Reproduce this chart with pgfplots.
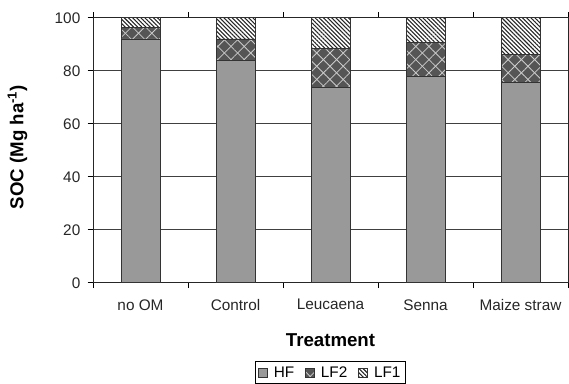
\documentclass[border=0pt]{standalone}
\usepackage{pgfplots}
\pgfplotsset{compat=1.18}
\usepackage{fontspec}
\setmainfont{Liberation Sans}
\usetikzlibrary{patterns.meta}
\definecolor{hfgray}{HTML}{999999}
\definecolor{lftwo}{HTML}{555555}
\begin{document}
\begin{tikzpicture}
\path[use as bounding box] (0,0) rectangle (426.75pt,287.25pt);
\begin{axis}[
  at={(69.75pt,75.2pt)}, anchor=south west,
  scale only axis, width=356.25pt, height=198.75pt,
  ybar stacked, bar width=0.41,
  xmin=-0.5, xmax=4.5, ymin=0, ymax=100,
  xtick={0,1,2,3,4},
  xticklabels={no OM,Control,Leucaena,Senna,Maize straw},
  minor xtick={-0.5,0.5,1.5,2.5,3.5,4.5},
  xtick style={draw=none},
  minor x tick style={draw=black, line width=0.6pt},
  minor tick length=4pt,
  ytick={0,20,...,100},
  ytick align=outside, xtick align=outside,
  major tick length=4pt,
  y tick style={draw=black, line width=0.6pt},
  ymajorgrids, grid style={draw=black!75, line width=0.6pt},
  axis line style={draw=black!85, line width=0.7pt},
  /pgf/number format/assume math mode=true,
  tick label style={font=\fontsize{11.5}{13}\selectfont, text=black!85},
  yticklabel style={xshift=-2pt},
  xticklabel style={yshift=-5pt},
  xlabel={\textbf{Treatment}},
  xlabel style={at={(axis description cs:0.5,-0.215)}, anchor=center, font=\fontsize{14}{16}\selectfont},
  ylabel={\textbf{SOC (Mg ha\textsuperscript{-1})}},
  ylabel style={at={(axis description cs:-0.159,0.512)}, anchor=center, font=\fontsize{14}{16}\selectfont},
  legend columns=-1,
  legend style={at={(axis description cs:0.5,-0.34)}, anchor=center, draw=black, line width=0.6pt,
    font=\fontsize{11.5}{13}\selectfont, inner sep=1.5pt,
    /tikz/every even column/.append style={column sep=6pt},
    /tikz/every odd column/.append style={column sep=2.5pt}},
  legend image code/.code={\draw[#1, line width=0.5pt] (0pt,-3.5pt) rectangle (7pt,3.5pt);},
]
\addplot[fill=hfgray, draw=black!80, line width=0.6pt] coordinates {(0,92) (1,84) (2,73.7) (3,78) (4,75.7)};
\addplot[fill=lftwo, draw=black!80, line width=0.6pt,
  postaction={pattern={Lines[angle=45,distance=7pt,line width=0.6pt]}, pattern color=white!80!black},
  postaction={pattern={Lines[angle=-45,distance=7pt,line width=0.6pt]}, pattern color=white!80!black}]
  coordinates {(0,4.5) (1,8) (2,14.8) (3,12.7) (4,10.5)};
\addplot[fill=white, draw=black!80, line width=0.6pt,
  postaction={pattern={Lines[angle=-45,distance=2.2pt,line width=0.8pt]}, pattern color=black!85}]
  coordinates {(0,3.5) (1,8) (2,11.5) (3,9.3) (4,13.8)};
\legend{HF,LF2,LF1}
\end{axis}
\end{tikzpicture}
\end{document}
